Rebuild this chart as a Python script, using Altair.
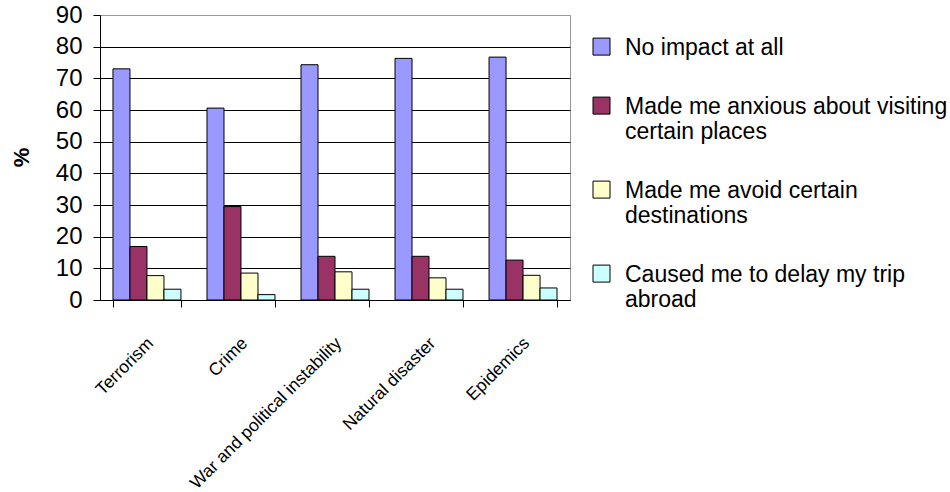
import altair as alt
import pandas as pd

categories = ["Terrorism", "Crime", "War and political instability", "Natural disaster", "Epidemics"]
series = [
    "No impact at all",
    "Made me anxious about visiting certain places",
    "Made me avoid certain destinations",
    "Caused me to delay my trip abroad",
]
no_impact = [73.0, 60.6, 74.3, 76.3, 76.7]
anxious = [16.9, 29.5, 13.8, 13.8, 12.6]
avoid = [7.7, 8.5, 8.9, 7.0, 7.8]
delay = [3.4, 1.7, 3.4, 3.4, 3.8]
colors = ["#9999FF", "#993366", "#FFFFCC", "#CCFFFF"]
legend_lines = [
    ["No impact at all"],
    ["Made me anxious about visiting", "certain places"],
    ["Made me avoid certain", "destinations"],
    ["Caused me to delay my trip", "abroad"],
]
y_ticks = list(range(0, 91, 10))

rows = []
for s, vals in zip(series, [no_impact, anxious, avoid, delay]):
    for c, v in zip(categories, vals):
        rows.append({"category": c, "series": s, "value": v})
df = pd.DataFrame(rows)

def js_str(t):
    return "'" + t.replace("'", "\\'") + "'"

label_expr = "datum.label"
for s, lines in reversed(list(zip(series, legend_lines))):
    arr = "[" + ",".join(js_str(l) for l in lines) + "]"
    label_expr = f"datum.label == {js_str(s)} ? {arr} : ({label_expr})"

FONT = "Liberation Sans"

chart = alt.Chart(df).mark_bar(stroke="black", strokeWidth=1).encode(
    x=alt.X(
        "category:N",
        sort=categories,
        scale=alt.Scale(paddingInner=0.277, paddingOuter=0.138),
        axis=alt.Axis(
            title=None,
            labelAngle=-45,
            labelAlign="right",
            labelBaseline="top",
            labelFont=FONT,
            labelFontSize=17.5,
            labelColor="black",
            labelPadding=27,
            labelOffset=-3,
            tickBand="extent",
            tickSize=7,
            tickColor="black",
            domainColor="black",
            grid=False,
            labelLimit=400,
        ),
    ),
    xOffset=alt.XOffset("series:N", sort=series, scale=alt.Scale(paddingInner=0, paddingOuter=0)),
    y=alt.Y(
        "value:Q",
        scale=alt.Scale(domain=[0, 90], nice=False),
        axis=alt.Axis(
            title="%",
            values=y_ticks,
            labelFont=FONT,
            labelFontSize=24,
            labelColor="black",
            labelPadding=11,
            tickSize=7,
            tickColor="black",
            domainColor="black",
            gridColor={"condition": {"test": "datum.value == 90", "value": "#999999"}, "value": "black"},
            gridWidth=1,
            titleFont=FONT,
            titleFontSize=22,
            titleFontWeight="bold",
            titleColor="black",
            titleX=-79,
            titleY=142,
            titleAlign="center",
            titleBaseline="middle",
            titleAngle=-90,
        ),
    ),
    fill=alt.Fill(
        "series:N",
        sort=series,
        scale=alt.Scale(domain=series, range=colors),
        legend=alt.Legend(
            title=None,
            orient="none",
            legendX=490,
            legendY=28,
            padding=0,
            symbolType="M-1,-1.93H1V0.07H-1Z",
            symbolSize=289,
            symbolStrokeColor="black",
            symbolStrokeWidth=1,
            symbolOpacity=1,
            labelFont=FONT,
            labelFontSize=23,
            labelColor="black",
            labelOffset=12,
            labelLimit=400,
            labelBaseline="alphabetic",
            labelExpr=label_expr,
            rowPadding=35,
        ),
    ),
).properties(
    width=470,
    height=285,
    autosize=alt.AutoSizeParams(type="none"),
    padding={"left": 100, "top": 15, "right": 380, "bottom": 192},
    background="white",
).configure_view(stroke="#999999", strokeWidth=1)

chart.save("out.html", embed_options={"renderer": "svg", "actions": False})
